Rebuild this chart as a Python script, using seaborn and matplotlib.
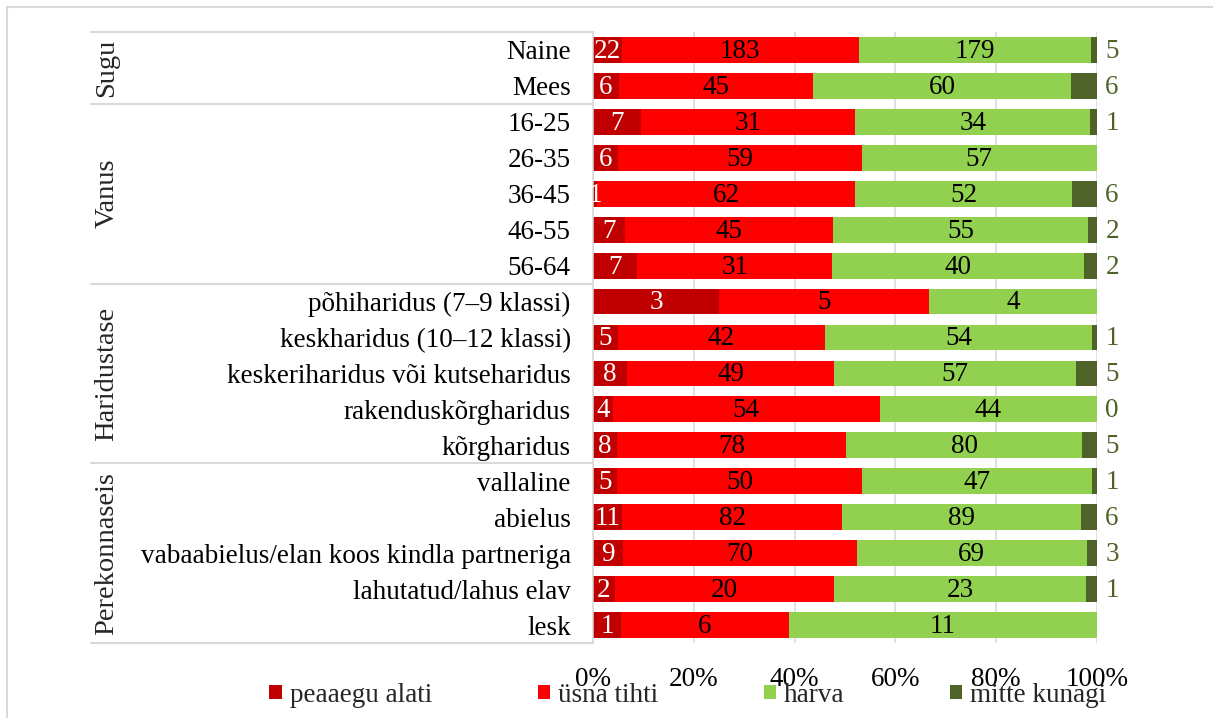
import numpy as np
import pandas as pd
import matplotlib
matplotlib.use('Agg')
import matplotlib.pyplot as plt
import matplotlib.transforms as mtransforms
from matplotlib.lines import Line2D
from matplotlib.patches import Patch
import seaborn as sns

rows = ['Naine', 'Mees', '16-25', '26-35', '36-45', '46-55', '56-64',
        'põhiharidus (7–9 klassi)', 'keskharidus (10–12 klassi)',
        'keskeriharidus või kutseharidus', 'rakenduskõrgharidus', 'kõrgharidus',
        'vallaline', 'abielus', 'vabaabielus/elan koos kindla partneriga',
        'lahutatud/lahus elav', 'lesk']
groups = ['Sugu', 'Vanus', 'Haridustase', 'Perekonnaseis']
group_sizes = [2, 5, 5, 5]
series = ['peaaegu alati', 'üsna tihti', 'harva', 'mitte kunagi']

peaaegu_alati = [22, 6, 7, 6, 1, 7, 7, 3, 5, 8, 4, 8, 5, 11, 9, 2, 1]
usna_tihti = [183, 45, 31, 59, 62, 45, 31, 5, 42, 49, 54, 78, 50, 82, 70, 20, 6]
harva = [179, 60, 34, 57, 52, 55, 40, 4, 54, 57, 44, 80, 47, 89, 69, 23, 11]
mitte_kunagi = [5, 6, 1, np.nan, 6, 2, 2, np.nan, 1, 5, 0, 5, 1, 6, 3, 1, np.nan]

colors = ['#C00000', '#FF0000', '#92D050', '#4F6228']
label_colors = ['white', 'black', 'black', '#4F6228']

df = pd.DataFrame({'rida': rows,
                   series[0]: peaaegu_alati,
                   series[1]: usna_tihti,
                   series[2]: harva,
                   series[3]: mitte_kunagi})
counts = df[series].fillna(0)
pct = counts.div(counts.sum(axis=1), axis=0) * 100
cum = pct.cumsum(axis=1)

sns.set_theme(style='white')
plt.rcParams['font.family'] = ['Liberation Serif', 'DejaVu Serif']
fs = 19.5

W, H = 1213, 718
fig = plt.figure(figsize=(W / 100, H / 100), dpi=100)
ax = fig.add_axes([593 / W, 1 - 643 / H, (1097 - 593) / W, (643 - 32) / H])

# stacked bars: draw cumulative totals from the back layer forward
for i in range(len(series) - 1, -1, -1):
    sns.barplot(x=cum[series[i]].values, y=rows, order=rows, orient='h',
                color=colors[i], saturation=1, width=0.72, errorbar=None,
                linewidth=0, ax=ax, zorder=2)

# labels inside the segments
for r in range(len(rows)):
    left = 0
    for i in range(3):
        w = pct.iloc[r, i]
        ax.text(left + w / 2, r + 0.04, f'{int(df.iloc[r][series[i]])}', ha='center',
                va='center', fontsize=fs, color=label_colors[i], zorder=3)
        left += w
    v = df.iloc[r][series[3]]
    if not pd.isna(v):
        ax.text(103, r + 0.04, f'{int(v)}', ha='center', va='center', fontsize=fs,
                color=label_colors[3], clip_on=False)

ax.set_xlim(0, 100)
ax.set_ylim(len(rows) - 0.5, -0.5)
ax.set_xticks([0, 20, 40, 60, 80, 100])
ax.set_xticklabels(['0%', '20%', '40%', '60%', '80%', '100%'])
ax.tick_params(axis='x', length=0, pad=17, labelsize=fs, colors='black')
ax.tick_params(axis='y', length=0, pad=16, labelsize=fs, colors='black')
ax.set_xlabel('')
ax.set_ylabel('')
ax.grid(axis='x', color='#D9D9D9', linewidth=1.1, zorder=0)
ax.set_axisbelow(True)
for s in ['top', 'right', 'bottom']:
    ax.spines[s].set_visible(False)
ax.spines['left'].set_color('#D9D9D9')
ax.spines['left'].set_linewidth(1.1)

# group separators and rotated group names
trans = mtransforms.blended_transform_factory(ax.transAxes, ax.transData)
x0 = (91 - 593) / (1097 - 593)
bounds = np.concatenate([[0], np.cumsum(group_sizes)]) - 0.5
for b in bounds:
    ax.plot([x0, 0], [b, b], transform=trans, color='#D9D9D9', lw=1.5,
            clip_on=False)
ftrans = mtransforms.blended_transform_factory(fig.transFigure, ax.transData)
for g, a, b in zip(groups, bounds[:-1], bounds[1:]):
    ax.text(107 / W, (a + b) / 2, g, transform=ftrans, rotation=90,
            ha='center', va='center', fontsize=fs + 1)

# legend
handles = [Patch(facecolor=c, edgecolor='none') for c in colors]
fig.legend(handles, series, loc='center', bbox_to_anchor=(688 / W, 1 - 695 / H),
           ncol=4, frameon=False, fontsize=fs, handlelength=0.45,
           handleheight=0.45, handletextpad=0.3, columnspacing=3.9)

# outer chart border
fig.add_artist(Line2D([7 / W, 7 / W], [1 - 7 / H, -0.1], color='#D9D9D9', lw=1.5))
fig.add_artist(Line2D([7 / W, 1.1], [1 - 7 / H, 1 - 7 / H], color='#D9D9D9', lw=1.5))

fig.savefig('out.png', dpi=100)
